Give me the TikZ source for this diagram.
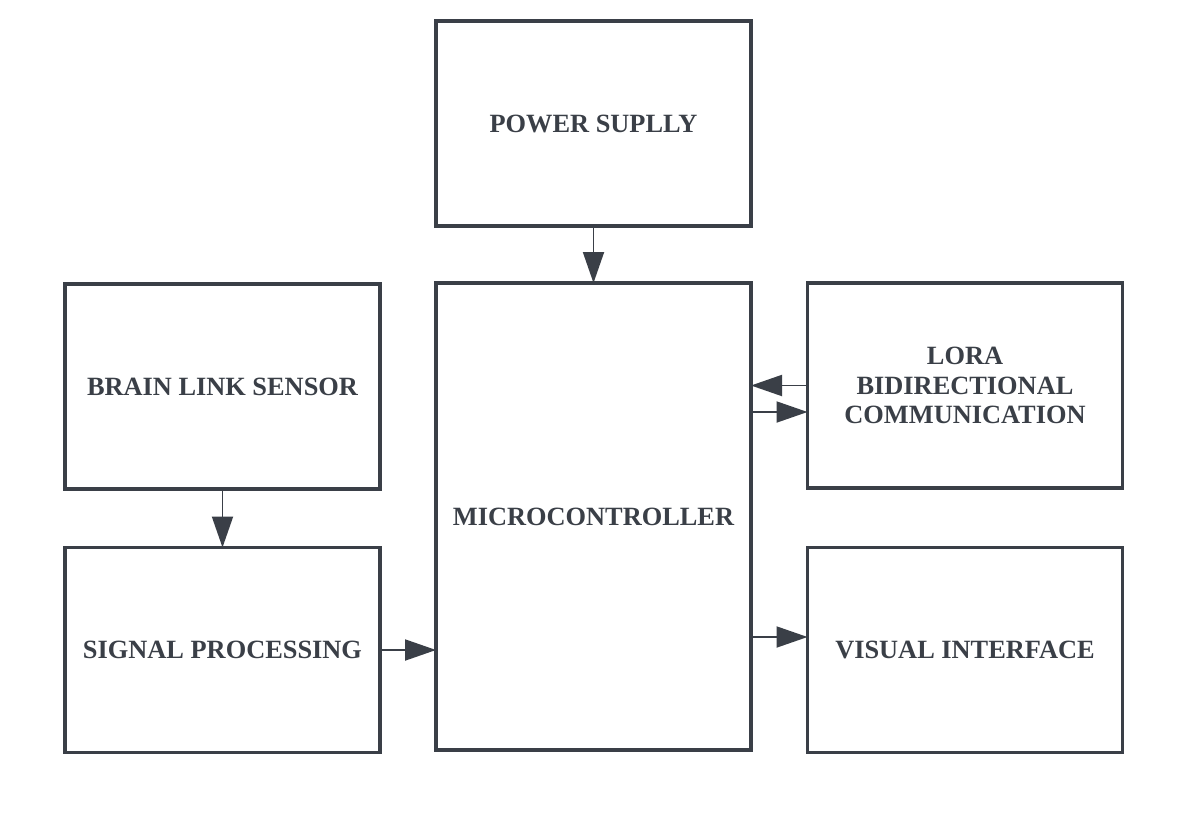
\documentclass[tikz,border=0pt]{standalone}
\usepackage{fontspec}
\setmainfont{Liberation Serif}
\usetikzlibrary{arrows.meta}
\definecolor{boxgray}{RGB}{58,63,71}
\begin{document}
\begin{tikzpicture}[font=\bfseries\fontsize{15}{17}\selectfont, every node/.style={draw=boxgray, text=boxgray, line width=1.9pt, minimum width=6.3cm, minimum height=4.1cm, outer sep=0pt, align=center}, link/.style={->, >={Triangle[length=0.62cm, width=0.42cm]}, draw=boxgray, line width=1.1pt}]
	\useasboundingbox (0, 0) rectangle (23.78, -16.36);
	
	% Blocks
	\node (power) at (11.87, -2.47) {POWER SUPLLY};
	\node[minimum height=9.34cm] (micro) at (11.87, -10.33) {MICROCONTROLLER};
	\node (brain) at (4.45, -7.73) {BRAIN LINK SENSOR};
	\node (signal) at (4.45, -13.0) {SIGNAL PROCESSING};
	\node (lora) at (19.3, -7.71) {LORA\\BIDIRECTIONAL\\COMMUNICATION};
	\node (visual) at (19.3, -13.0) {VISUAL INTERFACE};
	
	% Connections
	\draw[link] (power) -- (micro);
	\draw[link] (brain) -- (signal);
	\draw[link] (signal.east) -- (signal.east -| micro.west);
	\draw[link] (lora.west) -- (lora.west -| micro.east);
	\draw[link] ([yshift=-0.53cm]lora.west -| micro.east) -- ([yshift=-0.53cm]lora.west);
	\draw[link] ([yshift=0.26cm]visual.west -| micro.east) -- ([yshift=0.26cm]visual.west);
\end{tikzpicture}
\end{document}
